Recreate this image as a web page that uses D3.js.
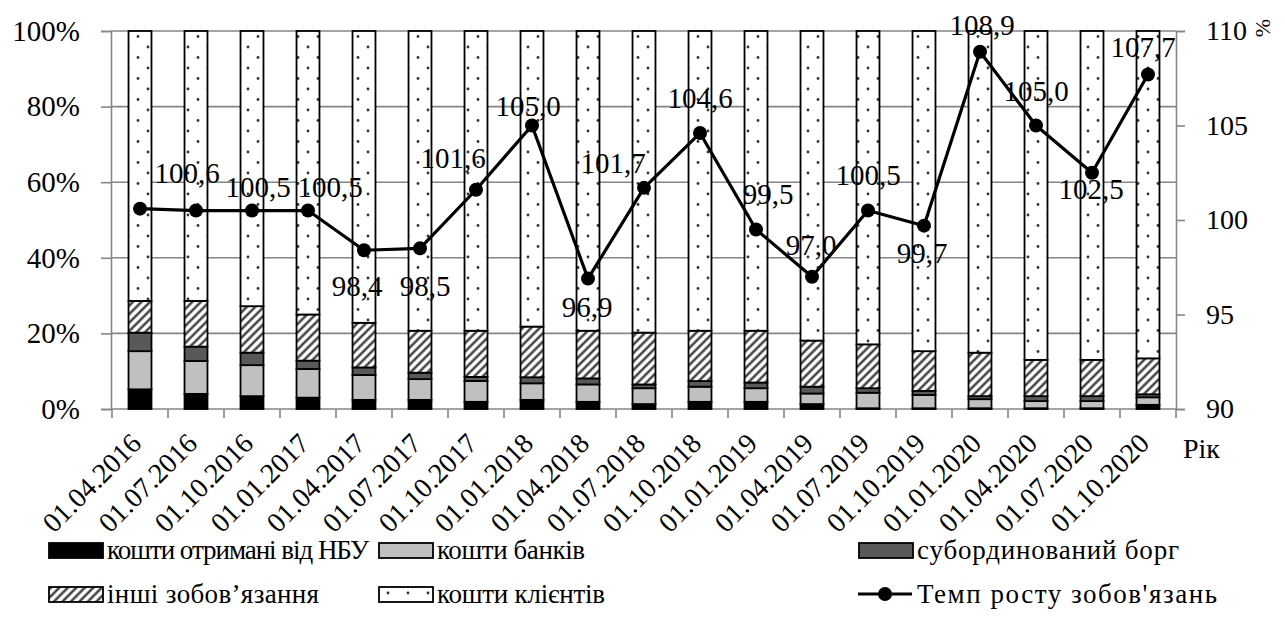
<!DOCTYPE html>
<html>
<head>
<meta charset="utf-8">
<script src="https://cdn.jsdelivr.net/npm/d3@7/dist/d3.min.js"></script>
</head>
<body style="margin:0">
<script>
// Reporting dates (quarterly)
const categories = [
  "01.04.2016", "01.07.2016", "01.10.2016", "01.01.2017", "01.04.2017",
  "01.07.2017", "01.10.2017", "01.01.2018", "01.04.2018", "01.07.2018",
  "01.10.2018", "01.01.2019", "01.04.2019", "01.07.2019", "01.10.2019",
  "01.01.2020", "01.04.2020", "01.07.2020", "01.10.2020"
];

// Structure of liabilities, % of total
const nbuFunds    = [5.2, 4.0, 3.4, 3.0, 2.4, 2.4, 1.9, 2.4, 1.9, 1.3, 1.9, 1.9, 1.3, 0.2, 0.2, 0.2, 0.2, 0.2, 1.1];
const bankFunds   = [10.1, 8.7, 8.2, 7.6, 6.6, 5.5, 5.5, 4.4, 4.6, 4.2, 4.0, 3.6, 2.8, 4.1, 3.5, 2.4, 1.9, 1.9, 2.0];
const subDebt     = [4.9, 3.8, 3.3, 2.2, 2.0, 1.7, 1.1, 1.6, 1.6, 1.0, 1.5, 1.5, 1.8, 1.2, 1.1, 0.8, 1.3, 1.3, 0.8];
const otherLiab   = [8.4, 12.1, 12.3, 12.2, 11.8, 11.1, 12.2, 13.4, 12.6, 13.7, 13.3, 13.7, 12.2, 11.6, 10.5, 11.5, 9.6, 9.6, 9.5];
const clientFunds = [71.4, 71.4, 72.8, 75.0, 77.2, 79.3, 79.3, 78.2, 79.3, 79.8, 79.3, 79.3, 81.9, 82.9, 84.7, 85.1, 87.0, 87.0, 86.6];

// Growth rate of liabilities, %
const growthRate = [100.6, 100.5, 100.5, 100.5, 98.4, 98.5, 101.6, 105.0, 96.9, 101.7, 104.6, 99.5, 97.0, 100.5, 99.7, 108.9, 105.0, 102.5, 107.7];

// Axis ticks
const shareTicks = [0, 20, 40, 60, 80, 100];
const rateTicks = [90, 95, 100, 105, 110];

const seriesNames = ["кошти отримані від НБУ", "кошти банків", "субординований борг", "інші зобов’язання", "кошти клієнтів"];
const lineName = "Темп росту зобов'язань";

const FONT = "Times New Roman";
const svg = d3.select("body").append("svg")
  .attr("width", 1285).attr("height", 628)
  .attr("font-family", FONT)
  .style("display", "block");
const plot = { left: 111, right: 1176, top: 31, bottom: 409 };
const GRID = "#868686";

function styleText(sel, size) {
  sel.attr("font-family", FONT).style("font-family", `'${FONT}'`)
    .attr("font-size", size).attr("fill", "#000");
  return sel;
}

// Patterns for the hatched and dotted segments
const defs = svg.append("defs");
const hatch = defs.append("pattern")
  .attr("id", "hatch").attr("patternUnits", "userSpaceOnUse")
  .attr("width", 6).attr("height", 6)
  .attr("patternTransform", "rotate(45)");
hatch.append("rect").attr("width", 6).attr("height", 6).attr("fill", "#fff");
hatch.append("line").attr("x1", 1.5).attr("y1", 0).attr("x2", 1.5).attr("y2", 6)
  .attr("stroke", "#333").attr("stroke-width", 2.3);

const dots = defs.append("pattern")
  .attr("id", "dots").attr("patternUnits", "userSpaceOnUse")
  .attr("width", 20).attr("height", 21);
dots.append("rect").attr("width", 20).attr("height", 21).attr("fill", "#fff");
dots.append("circle").attr("cx", 8).attr("cy", 5).attr("r", 1.4).attr("fill", "#333");
dots.append("circle").attr("cx", 18).attr("cy", 15.5).attr("r", 1.4).attr("fill", "#333");

const fills = ["#000000", "#c0c0c0", "#595959", "url(#hatch)", "url(#dots)"];

// Scales
const x = d3.scaleBand()
  .domain(categories)
  .range([plot.left + 1, plot.right])
  .paddingInner(0.59)
  .paddingOuter(0.295);
const yShare = d3.scaleLinear().domain([0, 100]).range([plot.bottom, plot.top]);
const yRate = d3.scaleLinear().domain([90, 110]).range([plot.bottom, plot.top]);

// Gridlines
svg.append("g").selectAll("line")
  .data(shareTicks)
  .join("line")
  .attr("x1", plot.left).attr("x2", plot.right)
  .attr("y1", d => yShare(d)).attr("y2", d => yShare(d))
  .attr("stroke", GRID).attr("stroke-width", 1.6);

// Left axis
const leftAxis = svg.append("g")
  .attr("transform", `translate(${plot.left},0)`)
  .call(d3.axisLeft(yShare).tickValues(shareTicks).tickSize(10).tickPadding(21)
    .tickFormat(d => d + "%"));
leftAxis.attr("font-family", FONT).attr("font-size", 29);
leftAxis.select(".domain").attr("stroke", GRID).attr("stroke-width", 1.6);
leftAxis.selectAll(".tick line").attr("stroke", GRID).attr("stroke-width", 1.6);
styleText(leftAxis.selectAll(".tick text"), 29);

// Right axis
const rightAxis = svg.append("g")
  .attr("transform", `translate(${plot.right},0)`)
  .call(d3.axisRight(yRate).tickValues(rateTicks).tickSize(9).tickPadding(21));
rightAxis.attr("font-family", FONT).attr("font-size", 28);
rightAxis.select(".domain").attr("stroke", GRID).attr("stroke-width", 1.6);
rightAxis.selectAll(".tick line").attr("stroke", GRID).attr("stroke-width", 1.6);
styleText(rightAxis.selectAll(".tick text"), 28);

// Category boundary ticks on the bottom axis
const step = x.step();
const boundaries = categories.map(c => x(c) + x.bandwidth() / 2 - step / 2)
  .concat([x(categories[categories.length - 1]) + x.bandwidth() / 2 + step / 2]);
svg.append("g").selectAll("line")
  .data(boundaries)
  .join("line")
  .attr("x1", d => d).attr("x2", d => d)
  .attr("y1", plot.bottom).attr("y2", plot.bottom + 9)
  .attr("stroke", GRID).attr("stroke-width", 1.6);

// Stacked bars
const keys = ["nbu", "banks", "sub", "other", "clients"];
const table = categories.map((c, i) => ({
  date: c, nbu: nbuFunds[i], banks: bankFunds[i], sub: subDebt[i], other: otherLiab[i], clients: clientFunds[i]
}));
const stacked = d3.stack().keys(keys)(table);

svg.append("g").selectAll("g")
  .data(stacked)
  .join("g")
  .attr("fill", (d, i) => fills[i])
  .selectAll("rect")
  .data(d => d)
  .join("rect")
  .attr("x", d => x(d.data.date))
  .attr("width", x.bandwidth())
  .attr("y", d => yShare(d[1]))
  .attr("height", d => yShare(d[0]) - yShare(d[1]))
  .attr("stroke", "#000").attr("stroke-width", 1.8);

// Bottom axis labels (rotated dates)
const bottomAxis = svg.append("g")
  .attr("transform", `translate(0,${plot.bottom})`)
  .call(d3.axisBottom(x).tickSize(0));
bottomAxis.attr("font-family", FONT).attr("font-size", 28);
bottomAxis.select(".domain").remove();
styleText(bottomAxis.selectAll(".tick text"), 28)
  .attr("text-anchor", "end")
  .attr("y", 0).attr("dy", 0)
  .attr("transform", "translate(3,36) rotate(-45)");

// Growth-rate line
const cx = c => x(c) + x.bandwidth() / 2;
const line = d3.line()
  .x((d, i) => cx(categories[i]))
  .y(d => yRate(d));
svg.append("path")
  .datum(growthRate)
  .attr("d", line)
  .attr("fill", "none").attr("stroke", "#000").attr("stroke-width", 3.2)
  .attr("stroke-linejoin", "round");
svg.append("g").selectAll("circle")
  .data(growthRate)
  .join("circle")
  .attr("cx", (d, i) => cx(categories[i]))
  .attr("cy", d => yRate(d))
  .attr("r", 7).attr("fill", "#000");

// Value labels: offsets (dx, dy to baseline) from each point; null = no label
const labelOffsets = [
  [47, -26], [62, -14], [78, -14], null, [-7, 46], [5, 48], [-23, -22], [-4, -10],
  [-1, 38], [-31, -15], [0, -25], [12, -25], [-1, -22], [0, -26], [-2, 37],
  [2, -17], [0, -25], [-1, 26], [-5, -17]
];
const fmt = d => d3.format(".1f")(d).replace(".", ",");
const valueLabels = svg.append("g").selectAll("text")
  .data(growthRate.map((v, i) => ({ v, i, off: labelOffsets[i] })).filter(d => d.off))
  .join("text")
  .attr("x", d => cx(categories[d.i]) + d.off[0])
  .attr("y", d => yRate(d.v) + d.off[1])
  .attr("text-anchor", "middle")
  .text(d => fmt(d.v));
styleText(valueLabels, 29);

// Axis titles
styleText(svg.append("text").attr("x", 1183).attr("y", 458).text("Рік"), 28);
styleText(svg.append("text")
  .attr("transform", "translate(1270,28) rotate(-90)")
  .attr("text-anchor", "middle").text("%"), 22);

// Legend
const legend = svg.append("g");
const legendItems = [
  { col: 0, row: 0, fill: fills[0], label: seriesNames[0], w: 262 },
  { col: 1, row: 0, fill: fills[1], label: seriesNames[1], w: 148 },
  { col: 2, row: 0, fill: fills[2], label: seriesNames[2], w: 262 },
  { col: 0, row: 1, fill: fills[3], label: seriesNames[3], w: 212 },
  { col: 1, row: 1, fill: fills[4], label: seriesNames[4], w: 168 },
  { col: 2, row: 1, line: true, label: lineName, w: 300 }
];
const colX = [48, 378, 858];
const rowY = [550, 594];
legendItems.forEach(it => {
  const gx = colX[it.col], gy = rowY[it.row];
  if (it.line) {
    legend.append("line").attr("x1", gx).attr("x2", gx + 54).attr("y1", gy).attr("y2", gy)
      .attr("stroke", "#000").attr("stroke-width", 3.2);
    legend.append("circle").attr("cx", gx + 27).attr("cy", gy).attr("r", 7).attr("fill", "#000");
  } else {
    legend.append("rect").attr("x", gx + 1).attr("y", gy - 7).attr("width", 54).attr("height", 15)
      .attr("fill", it.fill).attr("stroke", "#000").attr("stroke-width", 1.8);
  }
  styleText(legend.append("text").attr("x", gx + 59).attr("y", gy + 9)
    .attr("textLength", it.w).attr("lengthAdjust", "spacing")
    .text(it.label), 27);
});
</script>
</body>
</html>
